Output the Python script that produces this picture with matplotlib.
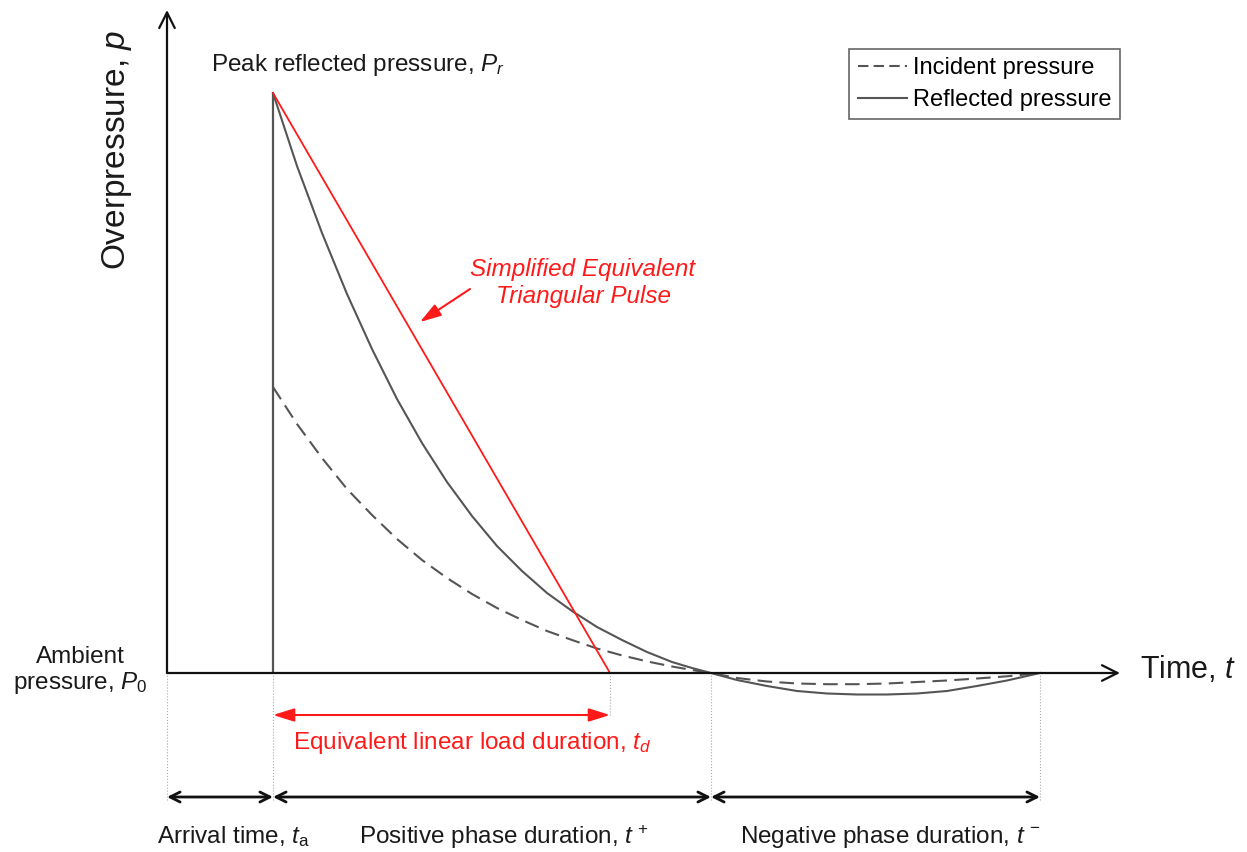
import numpy as np
import matplotlib.pyplot as plt
from matplotlib.lines import Line2D

plt.rcParams['font.family'] = ['Liberation Sans', 'DejaVu Sans']
plt.rcParams['mathtext.fontset'] = 'custom'
plt.rcParams['mathtext.rm'] = 'Liberation Sans'
plt.rcParams['mathtext.it'] = 'Liberation Sans:italic'

# key times and pressures (arbitrary units)
t_a = 1.06          # arrival time
t_pos_end = 5.44    # end of positive phase
t_neg_end = 8.73    # end of negative phase
t_d_end = 4.43      # end of equivalent triangular pulse
P_r = 5.80          # peak reflected pressure
P_so = 2.86         # peak incident pressure

# reflected pressure history
refl_t = [1.06, 1.30, 1.55, 1.80, 2.05, 2.30, 2.55, 2.80, 3.05, 3.30, 3.55, 3.80, 4.05, 4.30,
          4.55, 4.80, 5.05, 5.25, 5.44,
          5.70, 6.00, 6.30, 6.60, 6.90, 7.20, 7.50, 7.80, 8.10, 8.40, 8.73]
refl_p = [5.80, 5.07, 4.40, 3.79, 3.24, 2.74, 2.30, 1.91, 1.57, 1.27, 1.02, 0.80, 0.62, 0.46,
          0.33, 0.21, 0.11, 0.05, 0.0,
          -0.07, -0.13, -0.18, -0.205, -0.215, -0.215, -0.205, -0.18, -0.13, -0.075, 0.0]

# incident pressure history
inc_t = [1.06, 1.30, 1.55, 1.80, 2.05, 2.30, 2.55, 2.80, 3.05, 3.30, 3.55, 3.80, 4.05, 4.30,
         4.55, 4.80, 5.05, 5.25, 5.44,
         5.70, 6.00, 6.30, 6.60, 6.90, 7.20, 7.50, 7.80, 8.10, 8.40, 8.73]
inc_p = [2.86, 2.49, 2.15, 1.84, 1.58, 1.34, 1.13, 0.95, 0.79, 0.65, 0.53, 0.42, 0.33, 0.245,
         0.176, 0.116, 0.065, 0.03, 0.0,
         -0.05, -0.085, -0.105, -0.112, -0.112, -0.105, -0.09, -0.075, -0.055, -0.033, 0.0]

# triangular pulse
tri_t = [t_a, t_d_end]
tri_p = [P_r, 0.0]

# extents of the sketch axes
x_axis_end = 9.53
y_axis_end = 6.63
dim_y = -1.24       # level of the duration arrows
td_y = -0.42        # level of the red duration arrow

fig = plt.figure(figsize=(12.47, 8.52), dpi=100)
ax = fig.add_axes([0, 0, 1, 1])
ax.set_xlim(-1.67, 10.80)
ax.set_ylim(-1.79, 6.73)
ax.axis('off')

curve_col = '#555555'
red = '#ff1a1a'

# axes with arrows
ax.annotate('', xy=(x_axis_end, 0), xytext=(0, 0),
            arrowprops=dict(arrowstyle='->', lw=1.6, color='#111111', mutation_scale=28,
                            shrinkA=0, shrinkB=0))
ax.annotate('', xy=(0, y_axis_end), xytext=(0, 0),
            arrowprops=dict(arrowstyle='->', lw=1.6, color='#111111', mutation_scale=28,
                            shrinkA=0, shrinkB=0))

# pressure curves
ax.vlines(t_a, 0, P_r, color=curve_col, lw=1.6)
ax.plot(refl_t, refl_p, color=curve_col, lw=1.5, solid_joinstyle='round')
ax.plot(inc_t, inc_p, color=curve_col, lw=1.5, dashes=(7, 3.5))
ax.plot(tri_t, tri_p, color=red, lw=1.3)

# dotted guide lines
ax.vlines([0, t_a, t_pos_end, t_neg_end], dim_y - 0.03, 0, color='#aaaaaa', lw=0.8, linestyles=':')
ax.vlines(t_d_end, td_y, 0, color='#aaaaaa', lw=0.8, linestyles=':')

# duration arrows
for a, b in [(0, t_a), (t_a, t_pos_end), (t_pos_end, t_neg_end)]:
    ax.annotate('', xy=(b, dim_y), xytext=(a, dim_y),
                arrowprops=dict(arrowstyle='<->', lw=2.0, color='#111111', mutation_scale=18,
                                shrinkA=0, shrinkB=0))
ax.annotate('', xy=(t_d_end, td_y), xytext=(t_a, td_y),
            arrowprops=dict(arrowstyle='<|-|>,head_length=0.8,head_width=0.25', lw=1.5, color=red,
                            mutation_scale=16, shrinkA=0, shrinkB=0))

# pointer to the triangular pulse
ax.annotate('', xy=(2.53, 3.51), xytext=(3.03, 3.84),
            arrowprops=dict(arrowstyle='-|>,head_length=0.8,head_width=0.25', lw=1.5, color=red,
                            mutation_scale=16, shrinkA=0, shrinkB=0))

txt = '#1a1a1a'
fs = 17.5
ax.text(1.91, 6.08, r'Peak reflected pressure, $P_r$', ha='center', va='center', fontsize=fs, color=txt)
ax.text(4.16, 3.90, 'Simplified Equivalent\nTriangular Pulse', ha='center', va='center',
        fontsize=fs, color=red, style='italic', linespacing=1.2)
ax.text(-0.87, 0.02, 'Ambient\npressure, $P_0$', ha='center', va='center', ma='center',
        fontsize=fs, color=txt, linespacing=1.15)
ax.text(3.05, -0.70, r'Equivalent linear load duration, $t_d$', ha='center', va='center',
        fontsize=fs, color=red)
ax.text(0.66, -1.64, r'Arrival time, $t_{\mathrm{a}}$', ha='center', va='center', fontsize=fs, color=txt)
ax.text(3.37, -1.64, r'Positive phase duration, $t^{\,+}$', ha='center', va='center', fontsize=fs, color=txt)
ax.text(7.23, -1.64, r'Negative phase duration, $t^{\,-}$', ha='center', va='center', fontsize=fs, color=txt)
ax.text(9.73, 0.04, r'Time, $t$', ha='left', va='center', fontsize=22, color=txt)
ax.text(-0.50, 5.23, r'Overpressure, $p$', ha='center', va='center', rotation=90, fontsize=24, color=txt)

handles = [Line2D([], [], color=curve_col, lw=1.5, dashes=(5, 2.5)),
           Line2D([], [], color=curve_col, lw=1.5)]
leg = ax.legend(handles, ['Incident pressure', 'Reflected pressure'], loc='upper right',
                bbox_to_anchor=(0.898, 0.9425), bbox_transform=fig.transFigure, borderaxespad=0,
                fontsize=17, fancybox=False, framealpha=1, edgecolor='#666666',
                handlelength=2.1, handletextpad=0.25, labelspacing=0.42, borderpad=0.35)
leg.get_frame().set_linewidth(1.2)

fig.savefig('out.png', dpi=100)
